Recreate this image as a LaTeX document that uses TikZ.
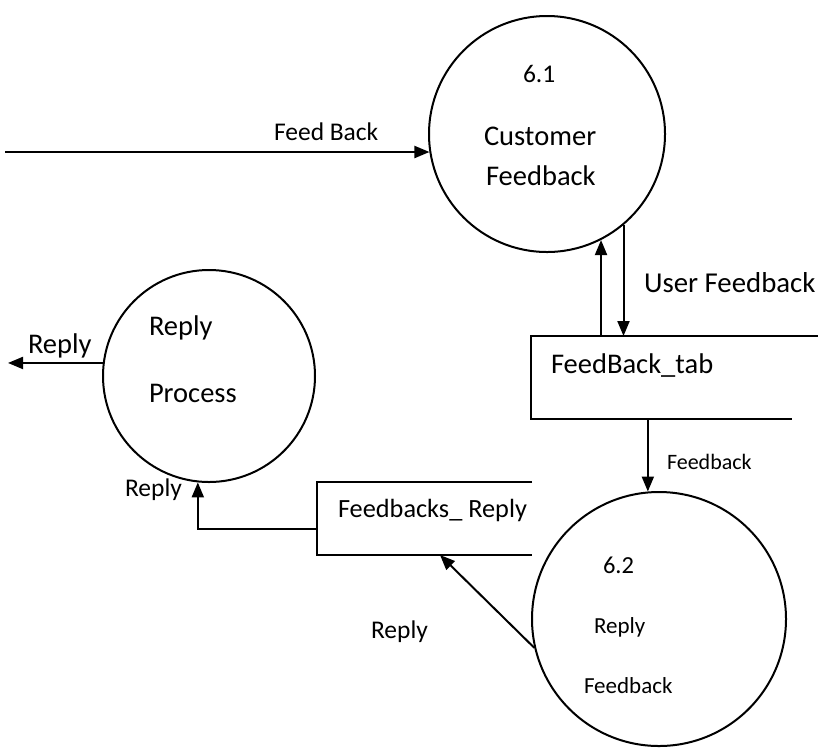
\documentclass[tikz,border=0pt]{standalone}
\usepackage{fontspec}
\setmainfont{Carlito}
\usetikzlibrary{arrows.meta}
\begin{document}
\begin{tikzpicture}[x=1pt,y=-1pt,
  line width=2pt,
  proc/.style={draw, circle, inner sep=0pt},
  txt/.style={inner sep=0pt, anchor=base west},
  arr/.style={-{Triangle[length=15pt,width=12pt]}},
  store/.style={inner sep=0pt, anchor=north west},
  fa/.style={font=\fontsize{28.5}{30}\selectfont},
  fb/.style={font=\fontsize{25.5}{28}\selectfont},
  fc/.style={font=\fontsize{23}{25}\selectfont}]
\useasboundingbox (0,0) rectangle (818,748);
% processes
\node[proc, minimum size=236pt] (c61) at (547,134) {};
\node[proc, minimum size=212pt] (rp) at (209,376) {};
\node[proc, minimum size=254pt] (c62) at (659,619) {};
% stores
\node[store, minimum width=287pt, minimum height=81pt] (tab) at (531,336) {};
\node[store, minimum width=213pt, minimum height=71pt] (rep) at (317,482) {};
\draw (tab.north east) -- (tab.north west) -- (tab.south west) -- ([xshift=-28pt]tab.south east);
\draw (rep.north east) -- (rep.north west) -- (rep.south west) -- (rep.south east);
% texts in shapes
\node[txt, fb] (n61) at (522,82) {6.1};
\node[txt, fa] (n61a) at (483,145) {Customer};
\node[txt, fa] (n61b) at (485,185) {Feedback};
\node[txt, fa] (nrpa) at (148,335) {Reply};
\node[txt, fa] (nrpb) at (148,402) {Process};
\node[txt, font=\fontsize{24.5}{26}\selectfont] (n62) at (602,573) {6.2};
\node[txt, fc] (n62a) at (593,633) {Reply};
\node[txt, fc] (n62b) at (583,693) {Feedback};
\node[txt, fa] (ntab) at (550,373) {FeedBack\_tab};
\node[txt, font=\fontsize{26.3}{28}\selectfont] (nrep) at (337,517) {Feedbacks\_ Reply};
% flows
\coordinate (fbin) at (5,152);
\draw[arr] (fbin) -- (fbin -| c61.189);
\node[txt, fb] (lfb) at (273,140) {Feed Back};
\draw[arr] (c61.-63 |- tab.north) -- (c61.-63);
\draw[arr] (c61.-50) -- (c61.-50 |- tab.north);
\node[txt, font=\fontsize{28.8}{30}\selectfont] (luf) at (643,292) {User Feedback};
\draw[arr] (c62.95 |- tab.south) -- (c62.95);
\node[txt, font=\fontsize{22}{24}\selectfont] (lfd) at (666,469) {Feedback};
\draw[arr] (c62.193) -- ([xshift=123pt]rep.south west);
\node[txt, fb] (lr2) at (370,638) {Reply};
\draw[arr] ([yshift=-10.5pt]rep.west) -| (rp.-96);
\node[txt, fb] (lr1) at (124,496) {Reply};
\coordinate (outl) at (8,364);
\draw[arr] (rp.173) -- (rp.173 -| outl);
\node[txt, fa] (lr0) at (27,353) {Reply};
\end{tikzpicture}
\end{document}
